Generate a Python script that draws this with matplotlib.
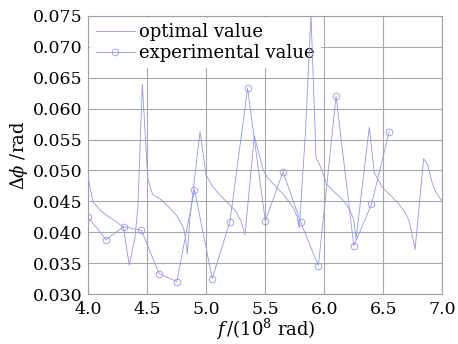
import numpy as np
import matplotlib
matplotlib.use('Agg')
from matplotlib import pyplot as plt

plt.rcParams['font.family'] = 'DejaVu Serif'
plt.rcParams['mathtext.fontset'] = 'dejavuserif'

# optimal phase difference (dense curve)
f_opt = [4.00, 4.04, 4.10, 4.156, 4.23, 4.297, 4.347, 4.396, 4.42, 4.458,
         4.503, 4.545, 4.608, 4.68, 4.749, 4.805, 4.825, 4.839, 4.86, 4.947,
         4.997, 5.05, 5.11, 5.18, 5.25, 5.294, 5.328, 5.407, 5.483, 5.52,
         5.57, 5.65, 5.737, 5.77, 5.788, 5.84, 5.887, 5.93, 5.97, 6.02,
         6.08, 6.133, 6.18, 6.218, 6.25, 6.269, 6.381, 6.424, 6.495, 6.56,
         6.636, 6.69, 6.72, 6.769, 6.842, 6.876, 6.90, 6.919, 6.95, 7.00]
dphi_opt = [0.0487, 0.0449, 0.0436, 0.0427, 0.0418, 0.0408, 0.0347, 0.0392, 0.0440, 0.0640,
            0.0488, 0.0461, 0.0454, 0.0441, 0.0427, 0.0408, 0.0390, 0.0365, 0.0420, 0.0563,
            0.0493, 0.0475, 0.0461, 0.0448, 0.0434, 0.0418, 0.0396, 0.0556, 0.0500, 0.0488,
            0.0478, 0.0462, 0.0440, 0.0425, 0.0407, 0.0560, 0.0752, 0.0521, 0.0505, 0.0478,
            0.0466, 0.0457, 0.0447, 0.0435, 0.0420, 0.0389, 0.0570, 0.0496, 0.0472, 0.0460,
            0.0445, 0.0430, 0.0418, 0.0372, 0.0519, 0.0510, 0.0490, 0.0477, 0.0463, 0.0450]

# measured values
f_exp = [4.00, 4.15, 4.30, 4.45, 4.60, 4.75, 4.90, 5.05, 5.20,
         5.35, 5.50, 5.65, 5.80, 5.95, 6.10, 6.25, 6.40, 6.55]
dphi_exp = [0.0424, 0.0388, 0.0409, 0.0403, 0.0333, 0.0320, 0.0469, 0.0325, 0.0417,
            0.0633, 0.0418, 0.0498, 0.0416, 0.0346, 0.0620, 0.0378, 0.0445, 0.0563]

xticks = [4.0, 4.5, 5.0, 5.5, 6.0, 6.5, 7.0]
yticks = [0.030, 0.035, 0.040, 0.045, 0.050, 0.055, 0.060, 0.065, 0.070, 0.075]

col = '#8e9ae4'

fig = plt.figure(figsize=(4.58, 3.44), dpi=100)
ax = fig.add_axes([0.1928, 0.1453, 0.7729, 0.8082])

ax.plot(f_opt, dphi_opt, color=col, lw=0.6, label='optimal value', zorder=4)
ax.plot(f_exp, dphi_exp, color=col, lw=0.6, marker='o', ms=4.8,
        mfc='none', mec=col, mew=0.6, label='experimental value', zorder=4)

ax.set_xlim(4.0, 7.0)
ax.set_ylim(0.030, 0.075)
ax.set_xticks(xticks)
ax.set_xticklabels(['%.1f' % v for v in xticks])
ax.set_yticks(yticks)
ax.set_yticklabels(['%.3f' % v for v in yticks])
ax.grid(True, color='#a8a8a8', lw=0.8)
ax.set_axisbelow(True)
ax.tick_params(length=0, labelsize=12.5)
ax.tick_params(axis='x', pad=5)
ax.tick_params(axis='y', pad=4)
for s in ax.spines.values():
    s.set_color('#a0a0a0')
    s.set_linewidth(0.8)

ax.set_xlabel(r'$f\,$/(10$^8$ rad)', fontsize=13, labelpad=-1)
ax.set_ylabel(r'$\Delta\phi$ /rad', fontsize=13, labelpad=2)

leg = ax.legend(loc='upper left', fontsize=13, frameon=True, fancybox=False,
                borderaxespad=0.1, handlelength=2.2, handletextpad=0.2,
                labelspacing=0.15, borderpad=0.3)
leg.get_frame().set_edgecolor('white')
leg.get_frame().set_facecolor('white')
leg.get_frame().set_alpha(1.0)
# legend hides the grid but the curves stay on top of it
leg.set_zorder(3)

fig.savefig('out.png', dpi=100)
